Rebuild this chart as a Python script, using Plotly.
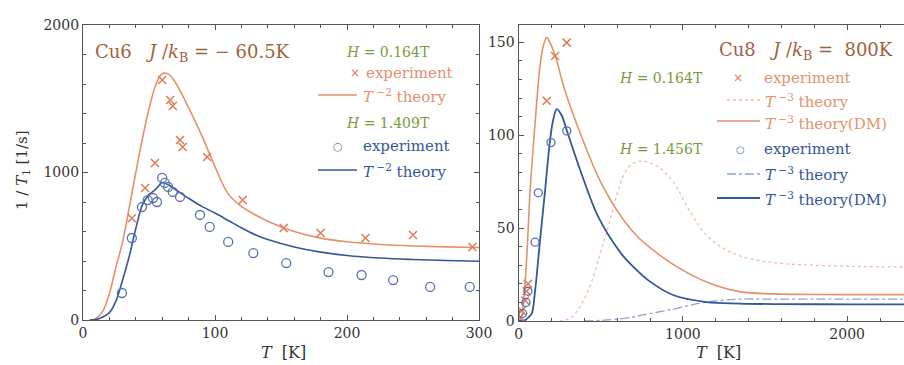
import plotly.graph_objects as go

# ---------------- data: Cu6 (left panel) ----------------
cu6_T_theory = [5, 10, 15, 20, 25, 30, 35, 40, 45, 50, 55, 60, 65, 70, 75, 80, 90, 100,
                110, 120, 130, 140, 160, 180, 200, 225, 250, 275, 300]
cu6_theory_low = [0, 10, 60, 180, 360, 530, 760, 1000, 1230, 1430, 1590, 1670, 1665, 1610,
                  1530, 1440, 1250, 1040, 855, 770, 715, 670, 600, 555, 530, 512, 502, 496, 492]
cu6_theory_high = [0, 3, 20, 50, 130, 271, 430, 620, 780, 850, 885, 930, 915, 885, 855, 825,
                   770, 725, 675, 625, 580, 545, 495, 460, 437, 420, 410, 403, 398]

cu6_exp_low_T = [37, 47, 54.5, 60, 66, 68, 73.5, 75.5, 94, 121, 152, 180, 214, 250, 295]
cu6_exp_low = [690, 895, 1064, 1627, 1492, 1451, 1220, 1173, 1105, 813, 624, 590, 556, 576, 495]

cu6_exp_high_T = [29.5, 37, 44.7, 49, 53, 56, 60, 62, 64.5, 68, 73.5, 88.6, 96, 110, 129,
                  154, 186, 211, 235, 263, 293]
cu6_exp_high = [183, 556, 766, 813, 827, 800, 963, 929, 902, 868, 834, 712, 631, 529, 454,
                386, 325, 305, 271, 224, 224]

# ---------------- data: Cu8 (right panel) ----------------
cu8_dm_low_T = [0, 10, 20, 30, 50, 70, 100, 130, 150, 171, 190, 222, 282, 384, 506, 650, 740,
                800, 940, 1144, 1347, 1550, 1800, 2100, 2400]
cu8_dm_low = [0, 1, 3, 10, 35, 70, 106, 137, 148, 152.5, 150, 143, 124, 99, 73.6, 53, 44,
              39.5, 30.5, 21, 15.8, 14.6, 14.3, 14.2, 14.2]

cu8_th_low_T = [250, 300, 343, 422, 526, 648, 700, 760, 850, 940, 1043, 1144, 1250, 1347,
                1500, 1652, 2000, 2400]
cu8_th_low = [0, 1, 3.8, 16, 45, 80, 85, 86, 83, 75, 59, 46, 39, 35, 32, 30.6, 29.5, 29]

cu8_dm_high_T = [0, 40, 60, 80, 100, 130, 161, 191, 210, 232, 260, 301, 384, 485, 627, 700,
                 788, 940, 1144, 1350, 1550, 2000, 2400]
cu8_dm_high = [0, 0.5, 2, 4, 16, 43, 70, 97, 108, 114, 111, 100.5, 79, 56, 36, 29,
               22, 14, 10.2, 9.4, 9.1, 9, 9]

cu8_th_high_T = [400, 500, 600, 690, 739, 800, 940, 1043, 1144, 1250, 1347, 1500, 2000, 2400]
cu8_th_high = [0, 0.3, 1, 2, 3, 4, 6.4, 8.5, 10.2, 11.2, 11.8, 11.8, 11.8, 11.8]

cu8_exp_low_T = [10, 19, 40, 49, 57, 171, 222, 293]
cu8_exp_low = [2, 5.5, 11, 16, 20, 118.5, 142.6, 149.8]
cu8_exp_high_T = [25, 45, 57, 100, 120, 197, 293]
cu8_exp_high = [4, 10, 16, 42.4, 69, 96, 102.3]

# ---------------- styles ----------------
ORANGE_LINE = "#e5916c"
ORANGE_MARK = "#e07a55"
ORANGE_DOT = "#f2bca6"
BLUE_LINE = "#34579a"
BLUE_MARK = "#5573b2"
BLUE_DOT = "#8fa5d0"
GREEN = "#7b9a3c"
BROWN = "#a0623c"
AX = "#555555"
FONT = "DejaVu Serif"

W, H = 904, 365
def px(x):
    return x / W
def py(y):
    return 1 - y / H

fig = go.Figure()

# left panel
fig.add_trace(go.Scatter(x=cu6_T_theory, y=cu6_theory_low, mode="lines", line=dict(color=ORANGE_LINE, width=1.6, shape="spline"), xaxis="x", yaxis="y"))
fig.add_trace(go.Scatter(x=cu6_T_theory, y=cu6_theory_high, mode="lines", line=dict(color=BLUE_LINE, width=1.6, shape="spline"), xaxis="x", yaxis="y"))
fig.add_trace(go.Scatter(x=cu6_exp_low_T, y=cu6_exp_low, mode="markers", marker=dict(symbol="x-thin", size=8, line=dict(color=ORANGE_MARK, width=1.5)), xaxis="x", yaxis="y"))
fig.add_trace(go.Scatter(x=cu6_exp_high_T, y=cu6_exp_high, mode="markers", marker=dict(symbol="circle-open", size=9, color=BLUE_MARK, line=dict(width=1.3)), xaxis="x", yaxis="y"))

# right panel
fig.add_trace(go.Scatter(x=cu8_th_low_T, y=cu8_th_low, mode="lines", line=dict(color=ORANGE_DOT, width=1.3, dash="dot", shape="spline"), xaxis="x2", yaxis="y2"))
fig.add_trace(go.Scatter(x=cu8_th_high_T, y=cu8_th_high, mode="lines", line=dict(color=BLUE_DOT, width=1.3, dash="dashdot", shape="spline"), xaxis="x2", yaxis="y2"))
fig.add_trace(go.Scatter(x=cu8_dm_low_T, y=cu8_dm_low, mode="lines", line=dict(color=ORANGE_LINE, width=1.6, shape="spline"), xaxis="x2", yaxis="y2"))
fig.add_trace(go.Scatter(x=cu8_dm_high_T, y=cu8_dm_high, mode="lines", line=dict(color=BLUE_LINE, width=1.8, shape="spline"), xaxis="x2", yaxis="y2"))
fig.add_trace(go.Scatter(x=cu8_exp_low_T, y=cu8_exp_low, mode="markers", marker=dict(symbol="x-thin", size=8, line=dict(color=ORANGE_MARK, width=1.5)), xaxis="x2", yaxis="y2"))
fig.add_trace(go.Scatter(x=cu8_exp_high_T, y=cu8_exp_high, mode="markers", marker=dict(symbol="circle-open", size=8, color=BLUE_MARK, line=dict(width=1.3)), xaxis="x2", yaxis="y2"))

tickfont = dict(family=FONT, size=14, color="#333333")
axcommon = dict(showline=True, linecolor=AX, linewidth=1.2, ticks="inside", tickcolor=AX,
                ticklen=5, showgrid=False, zeroline=False, tickfont=tickfont, automargin=False)

fig.update_layout(
    width=W, height=H, margin=dict(l=0, r=0, t=0, b=0, autoexpand=False),
    paper_bgcolor="white", plot_bgcolor="white", showlegend=False,
    xaxis=dict(domain=[px(83), px(479)], range=[0, 300], dtick=100, mirror="ticks",
               minor=dict(dtick=20, ticks="inside", ticklen=3, tickcolor=AX), anchor="y", **axcommon),
    yaxis=dict(domain=[py(320), py(25)], range=[0, 2000], dtick=1000, mirror="ticks",
               minor=dict(dtick=200, ticks="inside", ticklen=3, tickcolor=AX), anchor="x", **axcommon),
    xaxis2=dict(domain=[px(518.6), 1.0], range=[0, 2346], dtick=1000, mirror="ticks",
                minor=dict(dtick=200, ticks="inside", ticklen=3, tickcolor=AX), anchor="y2", **axcommon),
    yaxis2=dict(domain=[py(321), py(25)], range=[0, 159.3], dtick=50,
                minor=dict(dtick=10, ticks="inside", ticklen=3, tickcolor=AX), anchor="x2", **axcommon),
)

ann = []
def text(x, y, s, color, size=15, xanchor="left", angle=0):
    ann.append(dict(x=px(x), y=py(y), xref="paper", yref="paper", text=s, showarrow=False,
                    xanchor=xanchor, yanchor="middle", textangle=angle,
                    font=dict(family=FONT, size=size, color=color)))

# axis titles
text(22, 170, "1 / <i>T</i><sub>1</sub> [1/s]", "#333333", size=15, xanchor="center", angle=-90)
text(283, 352, "<i>T</i>  [K]", "#333333", size=16, xanchor="center")
text(718, 352, "<i>T</i>  [K]", "#333333", size=16, xanchor="center")

# left panel labels
text(93, 53, "Cu6   <i>J</i> /<i>k</i><sub>B</sub> = − 60.5K", BROWN, size=18)
text(388, 52, "<i>H</i> = 0.164T", GREEN, size=14, xanchor="center")
text(355, 73, "×", ORANGE_MARK, size=12, xanchor="center")
text(364, 73, "experiment", ORANGE_LINE, size=15)
text(361, 96, "<i>T</i><sup> −2</sup> theory", ORANGE_LINE, size=15)
text(388, 123, "<i>H</i> = 1.409T", GREEN, size=14, xanchor="center")
text(338, 146, "○", BLUE_MARK, size=11, xanchor="center")
text(361, 146, "experiment", BLUE_LINE, size=15)
text(361, 171, "<i>T</i><sup> −2</sup> theory", BLUE_LINE, size=15)

# right panel labels
text(717, 51, "Cu8   <i>J</i> /<i>k</i><sub>B</sub> =  800K", BROWN, size=18)
text(617, 78, "<i>H</i> = 0.164T", GREEN, size=14)
text(738, 78, "×", ORANGE_MARK, size=12, xanchor="center")
text(762, 78, "experiment", ORANGE_LINE, size=15)
text(763, 101, "<i>T</i><sup> −3</sup> theory", ORANGE_LINE, size=15)
text(763, 123, "<i>T</i><sup> −3</sup> theory(DM)", ORANGE_LINE, size=15)
text(617, 149, "<i>H</i> = 1.456T", GREEN, size=14)
text(740, 149, "○", BLUE_MARK, size=10, xanchor="center")
text(762, 149, "experiment", BLUE_LINE, size=15)
text(763, 174, "<i>T</i><sup> −3</sup> theory", BLUE_LINE, size=15)
text(763, 199, "<i>T</i><sup> −3</sup> theory(DM)", BLUE_LINE, size=15)

fig.update_layout(annotations=ann)

shapes = []
def seg(x0, x1, y, color, dash="solid", width=1.5):
    shapes.append(dict(type="line", xref="paper", yref="paper", x0=px(x0), x1=px(x1),
                       y0=py(y), y1=py(y), line=dict(color=color, width=width, dash=dash)))

seg(318, 357, 95, ORANGE_LINE)
seg(318, 357, 170, BLUE_LINE)
seg(727, 760, 100, ORANGE_DOT, dash="dot", width=1.3)
seg(717, 760, 121, ORANGE_LINE)
seg(727, 760, 174, BLUE_DOT, dash="dashdot", width=1.3)
seg(717, 760, 198, BLUE_LINE, width=2)
fig.update_layout(shapes=shapes)

fig.write_html("out.html")
